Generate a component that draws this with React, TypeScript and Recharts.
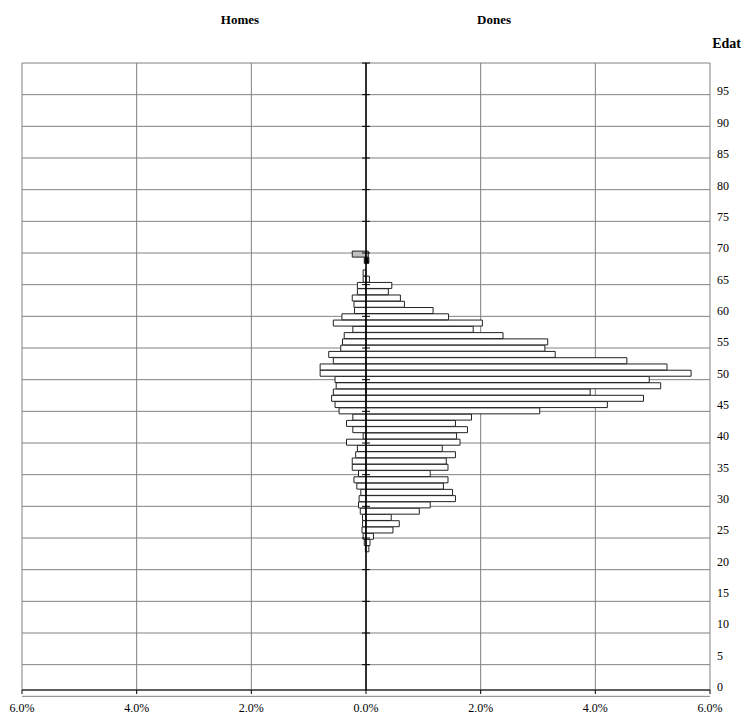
import { BarChart, Bar, XAxis, YAxis, CartesianGrid, ReferenceLine, Cell } from 'recharts'

// age categories, 0 at the bottom
const ages = [
  0, 1, 2, 3, 4, 5, 6, 7, 8, 9,
  10, 11, 12, 13, 14, 15, 16, 17, 18, 19,
  20, 21, 22, 23, 24, 25, 26, 27, 28, 29,
  30, 31, 32, 33, 34, 35, 36, 37, 38, 39,
  40, 41, 42, 43, 44, 45, 46, 47, 48, 49,
  50, 51, 52, 53, 54, 55, 56, 57, 58, 59,
  60, 61, 62, 63, 64, 65, 66, 67, 68, 69,
  70, 71, 72, 73, 74, 75, 76, 77, 78, 79,
  80, 81, 82, 83, 84, 85, 86, 87, 88, 89,
  90, 91, 92, 93, 94, 95, 96, 97, 98, 99
]

// % per age, men (drawn to the left)
const homes = [
  0, 0, 0, 0, 0, 0, 0, 0, 0, 0,
  0, 0, 0, 0, 0, 0, 0, 0, 0, 0,
  0, 0, 0.01, 0.03, 0.05, 0.07, 0.06, 0.06, 0.1, 0.13,
  0.12, 0.09, 0.16, 0.21, 0.13, 0.24, 0.24, 0.18, 0.15, 0.34,
  0.05, 0.23, 0.34, 0.23, 0.47, 0.54, 0.6, 0.57, 0.52, 0.54,
  0.8, 0.8, 0.57, 0.65, 0.44, 0.41, 0.38, 0.23, 0.57, 0.42,
  0.2, 0.21, 0.24, 0.15, 0.15, 0.05, 0.05, 0, 0.03, 0.24,
  0, 0, 0, 0, 0, 0, 0, 0, 0, 0,
  0, 0, 0, 0, 0, 0, 0, 0, 0, 0,
  0, 0, 0, 0, 0, 0, 0, 0, 0, 0
]

// % per age, women (drawn to the right)
const dones = [
  0, 0, 0, 0, 0, 0, 0, 0, 0, 0,
  0, 0, 0, 0, 0, 0, 0, 0, 0, 0,
  0, 0, 0.05, 0.07, 0.13, 0.47, 0.58, 0.44, 0.93, 1.12,
  1.56, 1.51, 1.35, 1.43, 1.12, 1.43, 1.4, 1.56, 1.33, 1.64,
  1.58, 1.77, 1.56, 1.84, 3.03, 4.21, 4.84, 3.91, 5.14, 4.94,
  5.67, 5.25, 4.55, 3.3, 3.12, 3.17, 2.39, 1.87, 2.03, 1.44,
  1.17, 0.67, 0.6, 0.39, 0.45, 0.06, 0, 0, 0.05, 0.04,
  0, 0, 0, 0, 0, 0, 0, 0, 0, 0,
  0, 0, 0, 0, 0, 0, 0, 0, 0, 0,
  0, 0, 0, 0, 0, 0, 0, 0, 0, 0
]

const xTicks = [-6, -4, -2, 0, 2, 4, 6]
const gridTicks = [0, 5, 10, 15, 20, 25, 30, 35, 40, 45, 50, 55, 60, 65, 70, 75, 80, 85, 90, 95, 100]

const font = '"Liberation Serif", "Times New Roman", serif'

const data = ages.map((age, i) => ({
  age,
  homes: homes[i] ? -homes[i] : null,
  dones: dones[i] ? dones[i] : null
}))

const fillFor = (age: number) => (age === 69 ? '#c0c0c0' : age === 68 ? '#000' : '#fff')

const fmt = (v: number) => Math.abs(v).toFixed(1).replace('.', ',') + '%'

const title: React.CSSProperties = {
  position: 'absolute',
  fontFamily: font,
  fontWeight: 'bold',
  whiteSpace: 'nowrap',
  lineHeight: 1,
  zIndex: 2
}

export default function App() {
  return (
    <div style={{ position: 'relative', width: 742, height: 712, marginBottom: -8 }}>
      <div style={{ ...title, left: 232, top: 11, fontSize: 13, transform: 'translate(-50%, -50%)' }}>Homes</div>
      <div style={{ ...title, left: 486, top: 11, fontSize: 13, transform: 'translate(-50%, -50%)' }}>Dones</div>
      <div style={{ ...title, right: 9, top: 36, fontSize: 14, transform: 'translateY(-50%)' }}>Edat</div>
      <BarChart
        width={742}
        height={712}
        data={data}
        layout="vertical"
        stackOffset="sign"
        barCategoryGap={0}
        margin={{ top: 55, right: 10, left: 14, bottom: 5 }}
        style={{ fontFamily: font }}
      >
        <CartesianGrid yAxisId="grid" stroke="#808080" strokeWidth={1} />
        <XAxis
          type="number"
          domain={[-6, 6]}
          ticks={xTicks}
          tickFormatter={fmt}
          allowDataOverflow
          height={25}
          tickSize={4}
          tickMargin={9}
          axisLine={{ stroke: '#000' }}
          tickLine={{ stroke: '#000' }}
          tick={{ fill: '#000', fontSize: 12 }}
        />
        <YAxis
          type="category"
          dataKey="age"
          orientation="right"
          reversed
          interval={4}
          width={30}
          tickSize={0}
          tickMargin={7}
          axisLine={false}
          tickLine={false}
          tick={{ fill: '#000', stroke: 'none', fontSize: 12, textAnchor: 'start' }}
        />
        <YAxis yAxisId="grid" type="number" domain={[0, 100]} ticks={gridTicks} hide />
        <Bar dataKey="homes" stackId="s" stroke="#222" strokeWidth={1} isAnimationActive={false}>
          {data.map((d) => (
            <Cell key={d.age} fill={fillFor(d.age)} />
          ))}
        </Bar>
        <Bar dataKey="dones" stackId="s" stroke="#222" strokeWidth={1} isAnimationActive={false}>
          {data.map((d) => (
            <Cell key={d.age} fill={fillFor(d.age)} />
          ))}
        </Bar>
        <ReferenceLine x={0} stroke="#000" strokeWidth={1.5} />
        {gridTicks.map((t) => (
          <ReferenceLine
            key={t}
            yAxisId="grid"
            segment={[{ x: -0.07, y: t }, { x: 0.07, y: t }]}
            stroke="#000"
            strokeWidth={1}
          />
        ))}
      </BarChart>
    </div>
  )
}
